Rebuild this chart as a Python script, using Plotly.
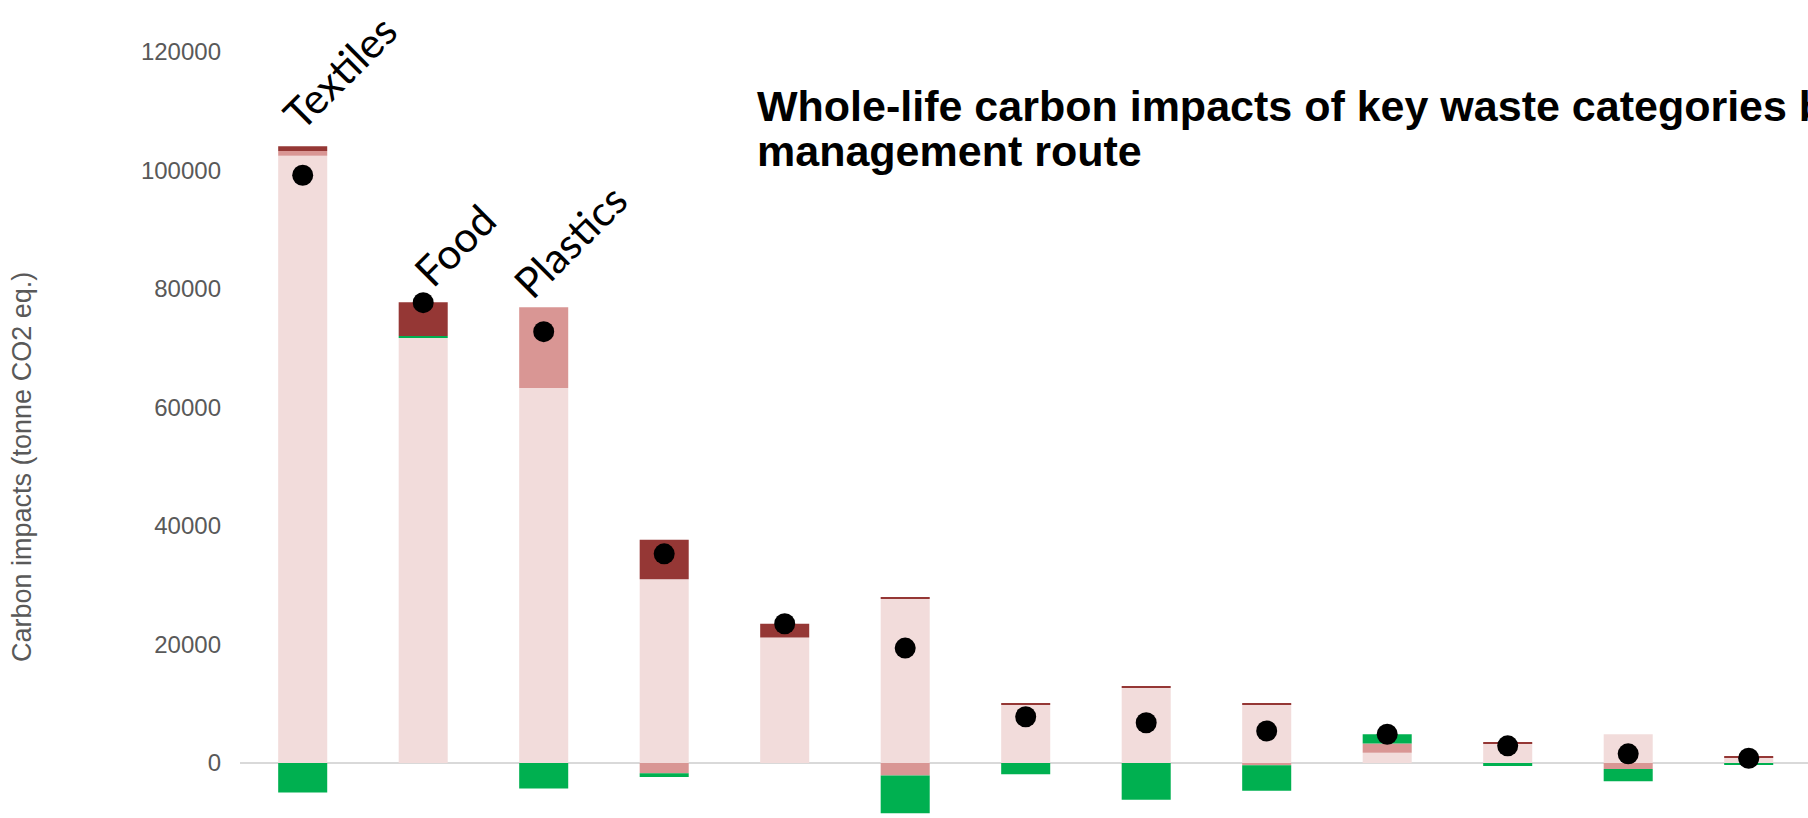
import plotly.graph_objects as go

# ---- data (tonne CO2 eq.) ----
labels = ["Textiles", "Food", "Plastics", "", "", "", "", "", "", "", "", "", ""]
pale_pink = [102500, 71800, 63300, 31000, 21200, 27700, 9800, 12700, 9900, 1750, 3300, 4850, 1000]
mid_pink = [800, 0, 13600, -1750, 0, -2100, 0, 0, -400, 1550, 0, -1000, 0]
green = [-5000, 250, -4300, -600, 0, -6400, -1900, -6200, -4300, 1550, -500, -2100, -300]
dark_red = [800, 5700, 0, 6700, 2300, 200, 200, 200, 200, 0, 200, 0, 200]
net_total = [99200, 77700, 72800, 35300, 23500, 19400, 7800, 6800, 5400, 4850, 2900, 1550, 800]
y_ticks = [0, 20000, 40000, 60000, 80000, 100000, 120000]

x = list(range(len(labels)))

W, H = 1808, 818
L = 240
BAR_W = 0.407
# pixel offsets of the rotated category labels (layout only)
label_shift = {"Textiles": (-33, 5), "Food": (-22, 4), "Plastics": (-43, -3)}

fig = go.Figure()
for vals, col in [(pale_pink, "#F2DCDB"), (mid_pink, "#D99694"),
                  (green, "#00B050"), (dark_red, "#953735")]:
    fig.add_trace(go.Bar(x=x, y=vals, width=BAR_W, marker=dict(color=col, line=dict(width=0)),
                         showlegend=False))

fig.add_trace(go.Scatter(x=x, y=net_total, mode="markers",
                         marker=dict(color="black", size=21), showlegend=False))

annotations = []
for i, lab in enumerate(labels):
    if not lab:
        continue
    top = max(pale_pink[i], 0) + max(mid_pink[i], 0) + max(green[i], 0) + max(dark_red[i], 0)
    dx, dy = label_shift[lab]
    annotations.append(dict(x=i, y=top, xref="x", yref="y", text=lab, showarrow=False,
                            textangle=-45, xanchor="left", yanchor="bottom",
                            xshift=dx, yshift=dy,
                            font=dict(family="Lato", size=42, color="black")))

annotations.append(dict(x=0, y=1, xref="paper", yref="paper", xshift=755 - L, yshift=-80,
                        text="<b>Whole-life carbon impacts of key waste categories by</b>",
                        showarrow=False, xanchor="left", yanchor="top",
                        font=dict(family="Liberation Sans", size=43, color="black")))
annotations.append(dict(x=0, y=1, xref="paper", yref="paper", xshift=755 - L, yshift=-125,
                        text="<b>management route</b>",
                        showarrow=False, xanchor="left", yanchor="top",
                        font=dict(family="Liberation Sans", size=43, color="black")))
annotations.append(dict(x=0, y=1 - 467 / H, xref="paper", yref="paper", xshift=22 - L,
                        text="Carbon impacts (tonne CO2 eq.)", showarrow=False,
                        textangle=-90, xanchor="center", yanchor="middle",
                        font=dict(family="Liberation Sans", size=27, color="#595959")))

k = 711 / 120000.0
ymax = 120000 + 52 / k
ymin = ymax - H / k
px_per_cat = 120.5
xmin = -(302.7 - L) / px_per_cat
xmax = xmin + (W - L) / px_per_cat

fig.update_layout(
    width=W, height=H,
    margin=dict(l=L, r=0, t=0, b=0),
    barmode="relative",
    plot_bgcolor="white", paper_bgcolor="white",
    annotations=annotations,
    xaxis=dict(range=[xmin, xmax], showticklabels=False, showgrid=False,
               zeroline=False, showline=False, ticks=""),
    yaxis=dict(range=[ymin, ymax], tickvals=y_ticks, tickformat="d", showgrid=False,
               zeroline=True, zerolinecolor="#D9D9D9", zerolinewidth=2,
               showline=False, ticks="", ticklabelstandoff=18,
               tickfont=dict(family="Liberation Sans", size=24, color="#595959")),
)

fig.write_html("out.html", config={"displayModeBar": False},
               post_script="document.body.style.margin='0';document.body.style.overflow='hidden';")
